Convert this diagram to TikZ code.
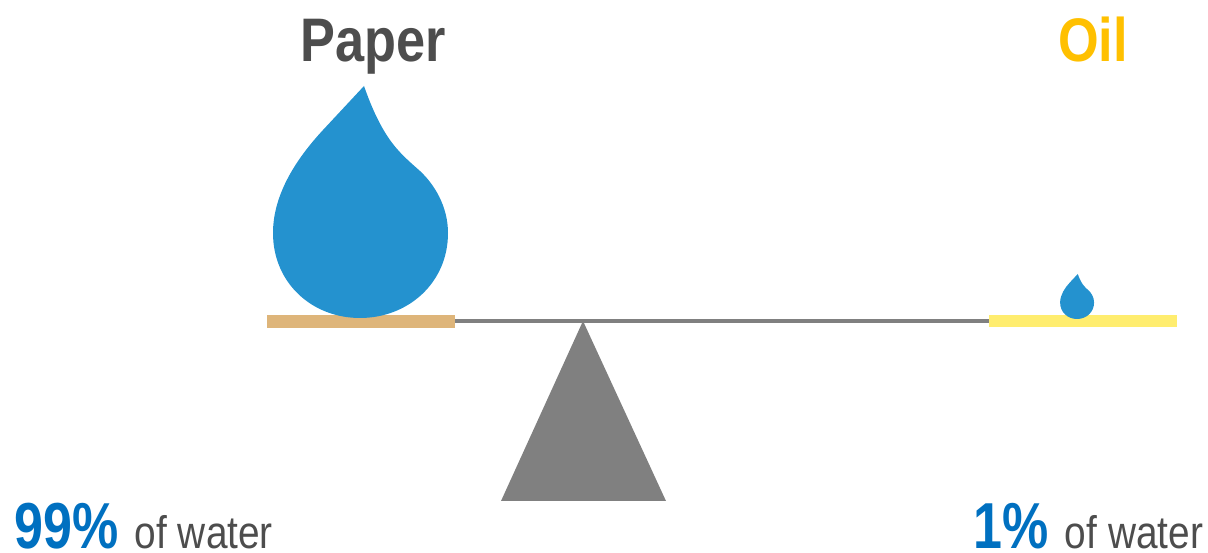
\documentclass[tikz,border=0pt]{standalone}
\usepackage{fontspec}
\setmainfont{Liberation Sans}
\newfontfamily\narrowfont[FakeStretch=0.85]{Liberation Sans}
\newfontfamily\tallfont[FakeStretch=0.8]{Liberation Sans}
\usepackage{xcolor}
\definecolor{dropblue}{RGB}{36,146,207}
\definecolor{papertan}{RGB}{222,181,122}
\definecolor{oilyellow}{RGB}{255,237,111}
\definecolor{oilgold}{RGB}{255,192,0}
\definecolor{textgrey}{RGB}{77,77,77}
\definecolor{beamgrey}{RGB}{128,128,128}
\definecolor{percentblue}{RGB}{0,112,192}
\tikzset{
    plate/.style={rectangle, inner sep=0pt, minimum width=3.76cm,
                  minimum height=#1, anchor=center},
    title/.style={font=\narrowfont\bfseries\fontsize{35}{38}\selectfont,
                  inner sep=0pt, anchor=base},
    share/.style={font=\narrowfont\fontsize{26}{29}\selectfont, text=textgrey,
                  inner sep=0pt, anchor=base west},
    waterdrop/.pic={
        \fill[dropblue] (4,-232) .. controls (10,-215) and (18,-195) .. (30,-178)
            .. controls (40,-164) and (50,-156) .. (60,-147)
            .. controls (74,-134) and (88,-112) .. (88,-85)
            .. controls (88,-35) and (48,0) .. (0,0)
            .. controls (-48,0) and (-87,-35) .. (-87,-85)
            .. controls (-87,-125) and (-62,-161) .. (-37,-188)
            -- cycle;
    },
}
\newcommand{\bigshare}[1]{{\tallfont\fontsize{37}{40}\selectfont\bfseries\textcolor{percentblue}{#1}}\hspace{3.2pt}}
\begin{document}
\begin{tikzpicture}[x=0.02cm, y=-0.02cm]
    \useasboundingbox (0,0) rectangle (1208,553);
    \node[title, text=textgrey] (paper) at (373,62) {Paper};
    \node[title, text=oilgold] (oil) at (1093,62) {Oil};
    \node[plate=0.26cm, fill=papertan] (paperplate) at (361,321.5) {};
    \node[plate=0.24cm, fill=oilyellow] (oilplate) at (1083,321) {};
    \draw[beamgrey, line width=2pt] (paperplate.east |- oilplate.west) -- (oilplate.west);
    \fill[beamgrey] (583,321) -- (666,501) -- (501,501) -- cycle;
    \pic (paperdrop) at (360,318) {waterdrop};
    \pic[scale=0.194] (oildrop) at (1077,319) {waterdrop};
    \node[share] (paperwater) at (14,549) {\bigshare{99\%} of water};
    \node[share] (oilwater) at (973,549) {\bigshare{1\%} of water};
\end{tikzpicture}
\end{document}
